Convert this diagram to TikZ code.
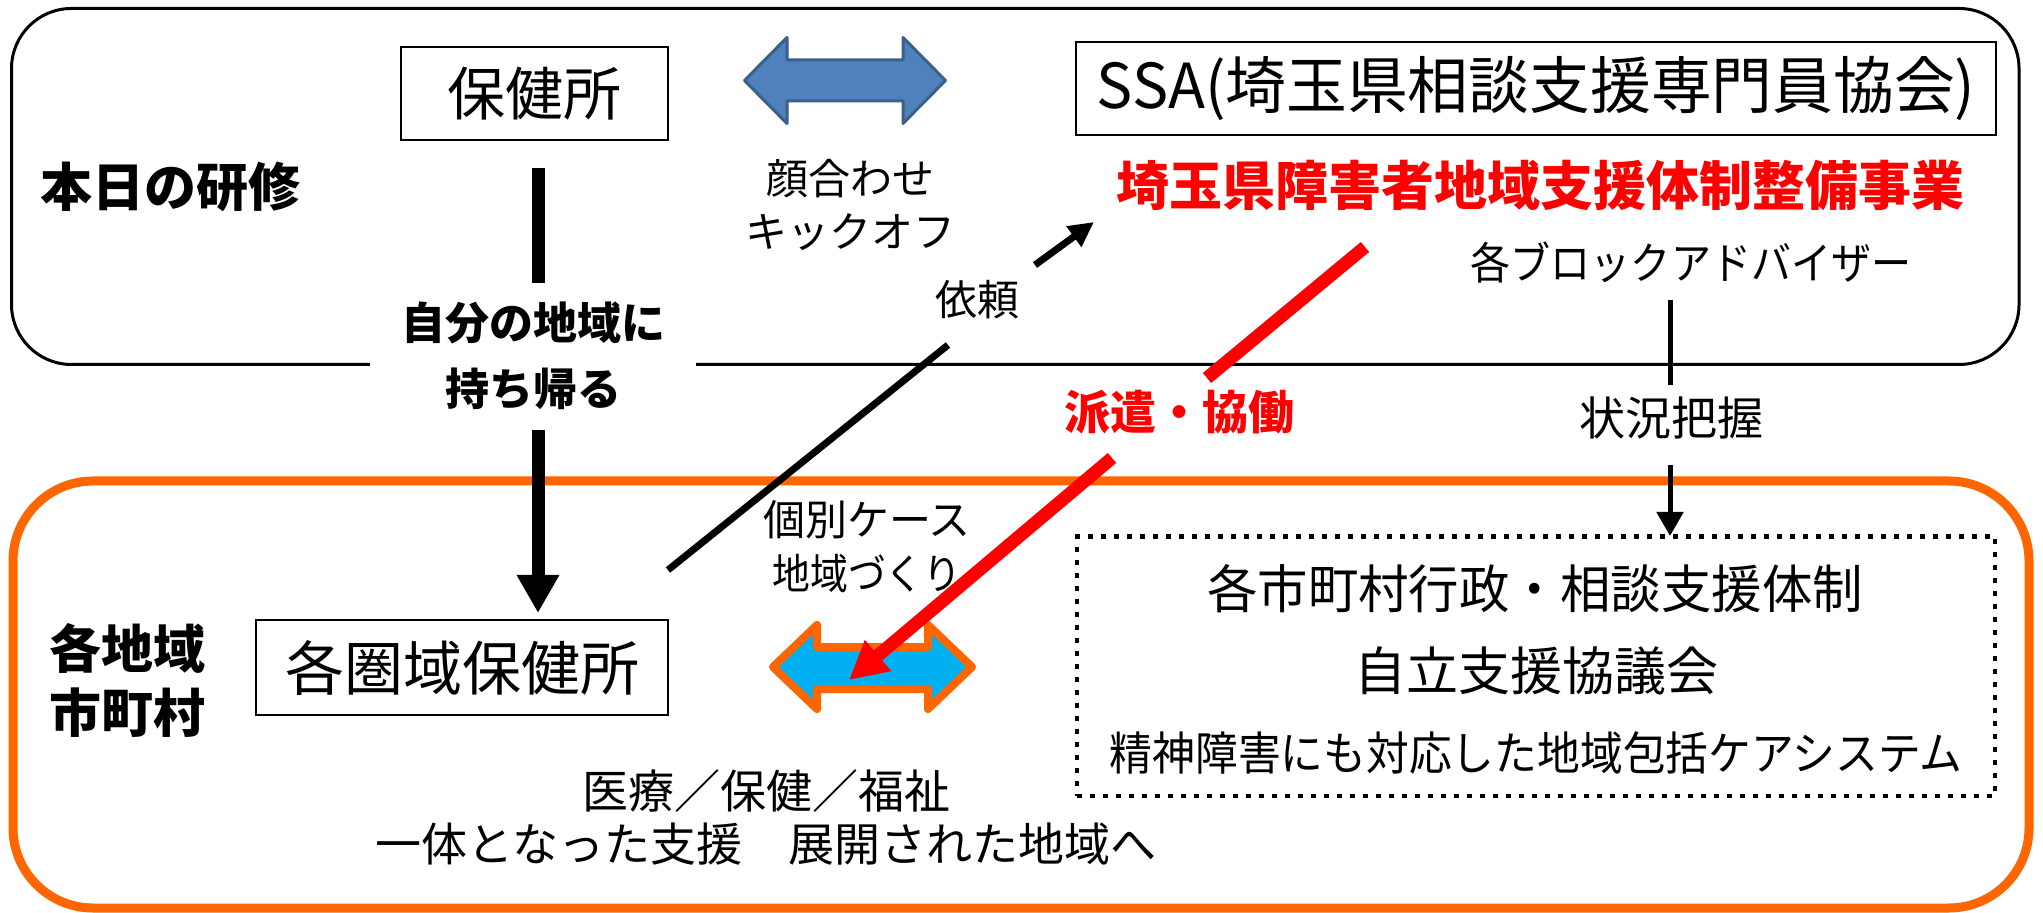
\documentclass[tikz,border=0pt]{standalone}
\usepackage{graphicx}
\usepackage{fontspec}
\setmainfont{Noto Sans CJK JP}
\usetikzlibrary{arrows.meta}
\definecolor{myred}{HTML}{FF0000}
\definecolor{myorange}{HTML}{FF6600}
\definecolor{mycyan}{HTML}{00B0F0}
\definecolor{myblue}{HTML}{4F81BD}
\definecolor{myblueborder}{HTML}{3A5F8B}
\newcommand{\fsz}[1]{\fontsize{#1}{#1}\selectfont}
\begin{document}
\begin{tikzpicture}[x=0.5pt,y=-0.5pt,
  box/.style={draw=black, line width=1pt, inner sep=0pt},
  txt/.style={inner sep=0pt, align=center},
  dotbox/.style={draw=black, line width=2.4pt, dash pattern=on 2.4pt off 4.1pt, inner sep=0pt},
  thickarrow/.style={line width=6.5pt},
  redline/.style={draw=myred, line width=6.5pt},
  thinline/.style={line width=3.5pt},
  advline/.style={line width=2.5pt}
]
\useasboundingbox (0,0) rectangle (2043,913);

% frames
\draw[line width=1.5pt, rounded corners=30pt] (11.5,8.5) rectangle (2019,364.5);
\draw[draw=myorange, line width=4.5pt, rounded corners=40pt] (13,481) rectangle (2029,908);

% boxes
\node[box, minimum width=133.5pt, minimum height=46.5pt] (hoken) at (534.5,93.5) {\fsz{29pt}保健所};
\node[box, minimum width=460pt, minimum height=46.5pt] (ssa) at (1536,88.5) {\fsz{31pt}\scalebox{0.98}[1]{SSA(埼玉県相談支援専門員協会)}};
\node[box, minimum width=206pt, minimum height=47.5pt] (kenhoken) at (462,667.5) {\fsz{29.5pt}各圏域保健所};
\node[dotbox, minimum width=459pt, minimum height=129.75pt] (shichoson) at (1536,666.25) {};

% texts
\node[txt, font=\bfseries\fsz{26pt}] (honjitsu) at (170,187) {本日の研修};
\node[txt, text=myred, font=\bfseries\fsz{26.5pt}] (jigyo) at (1540,185) {埼玉県障害者地域支援体制整備事業};
\node[txt, font=\fontsize{21pt}{26.5pt}\selectfont] (kaoawase) at (850,205) {顔合わせ\\キックオフ};
\node[txt, font=\fsz{22pt}] (adv) at (1691,262) {\scalebox{0.91}[1]{各ブロックアドバイザー}};
\node[txt, font=\fsz{23pt}] (jokyo) at (1671,418) {状況把握};
\node[txt, fill=white, minimum width=163pt, font=\bfseries\fontsize{22pt}{33pt}\selectfont] (mochikaeru) at (533,356) {自分の地域に\\持ち帰る};
\node[txt, font=\fsz{21pt}] (irai) at (977,300) {依頼};
\node[txt, text=myred, font=\bfseries\fsz{23pt}] (haken) at (1179,412) {派遣・協働};
\node[txt, font=\bfseries\fontsize{26pt}{32pt}\selectfont] (kakuchiiki) at (127,680) {各地域\\市町村};
\node[txt, font=\fontsize{21pt}{27pt}\selectfont] (kobetsu) at (867,547) {個別ケース\\\scalebox{0.9}[1]{地域づくり}};
\node[txt, font=\fontsize{23pt}{26.5pt}\selectfont] (iryo) at (766,817.5) {医療／保健／福祉\\一体となった支援　展開された地域へ};
\node[txt, font=\fsz{26pt}] (gyosei) at (1535,589) {\scalebox{0.97}[1]{各市町村行政・相談支援体制}};
\node[txt, font=\fsz{26pt}] (kyogikai) at (1536,671) {自立支援協議会};
\node[txt, font=\fsz{23pt}] (seishin) at (1536,753) {\scalebox{0.93}[1]{精神障害にも対応した地域包括ケアシステム}};

% double arrows
\draw[fill=myblue, draw=myblueborder, line width=1.5pt, line join=round]
  (744.5,80.5) -- (787,37.5) -- (787,60) -- (903,60) -- (903,37.5) -- (945.5,80.5)
  -- (903,123.5) -- (903,101) -- (787,101) -- (787,123.5) -- cycle;
\draw[fill=mycyan, draw=myorange, line width=4pt, line join=round]
  (773,667) -- (817,625) -- (817,647) -- (928,647) -- (928,625) -- (972,667)
  -- (928,709) -- (928,689) -- (817,689) -- (817,709) -- cycle;

% connector coordinates
\coordinate (m1) at (538,168);
\coordinate (m2) at (538,283);
\coordinate (m3) at (538,430);
\coordinate (m4) at (538,613);
\coordinate (i1) at (668,570);
\coordinate (i2) at (948,345);
\coordinate (i3) at (1035,265);
\coordinate (i4) at (1094,222);
\coordinate (r1) at (1365,247);
\coordinate (r2) at (1207,378);
\coordinate (r3) at (1112,458);
\coordinate (r4) at (849,680);
\coordinate (a1) at (1670,300);
\coordinate (a2) at (1670,385);
\coordinate (a3) at (1670,465);
\coordinate (a4) at (1670,536);

% connectors
\draw[thickarrow] (m1) -- (m2);
\draw[thickarrow, -{Triangle[length=19pt,width=20pt]}] (m3) -- (m4);
\draw[thinline] (i1) -- (i2);
\draw[thinline, -{Triangle[length=12.5pt,width=12pt]}] (i3) -- (i4);
\draw[redline] (r1) -- (r2);
\draw[redline, -{Triangle[length=19pt,width=19pt]}, color=myred] (r3) -- (r4);
\draw[advline] (a1) -- (a2);
\draw[advline, -{Triangle[length=12pt,width=13pt]}] (a3) -- (a4);
\end{tikzpicture}
\end{document}
